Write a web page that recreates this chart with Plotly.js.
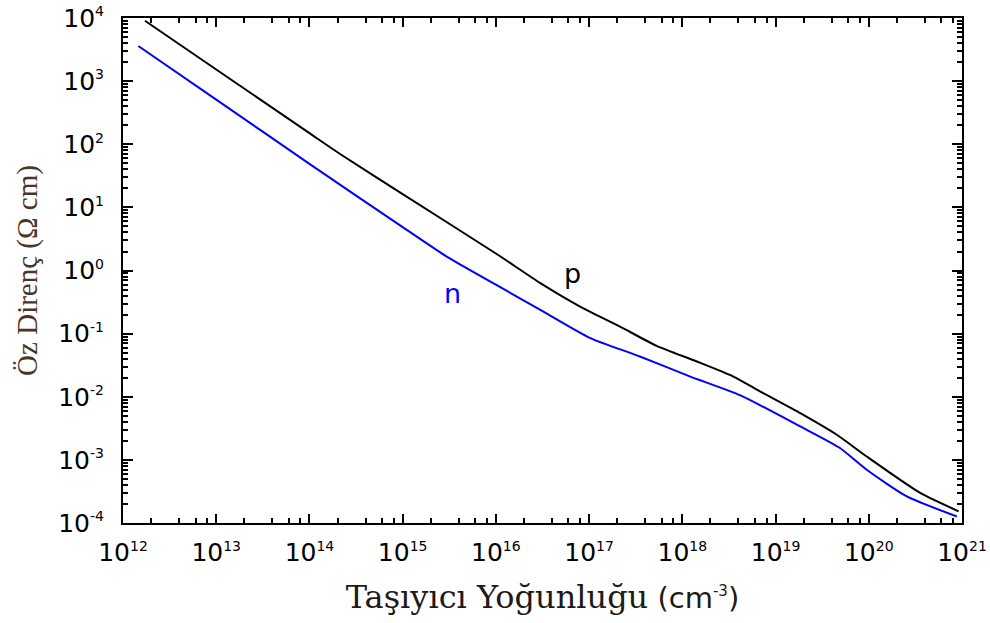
<!DOCTYPE html>
<html>
<head>
<meta charset="utf-8">
<script src="https://cdn.plot.ly/plotly-3.0.1.min.js"></script>
<style>html,body{margin:0;padding:0;background:#fff}#chart{width:990px;height:623px}</style>
</head>
<body>
<div id="chart"></div>
<script>
// p-type resistivity vs carrier concentration
const pN   = [1.72e12, 1e13, 1e14, 2.13e14, 1e15, 1e16, 3e16, 8e16, 2.15e17, 5.3e17, 1.43e18, 3.53e18, 6.8e18, 1.84e19, 4.54e19, 9.5e19, 3.56e20, 9.2e20];
const pRho = [9.06e3, 1.53e3, 150, 70, 16.2, 1.86, 0.63, 0.268, 0.129, 0.064, 0.0362, 0.0209, 0.0122, 5.5e-3, 2.5e-3, 1.13e-3, 2.99e-4, 1.53e-4];
// n-type
const nN   = [1.46e12, 1e13, 1e14, 1e15, 2.97e15, 1e16, 3e16, 1.03e17, 3.5e17, 1.2e18, 4.2e18, 1.84e19, 4.9e19, 9.5e19, 2.56e20, 8.8e20];
const nRho = [3.6e3, 509, 49, 4.86, 1.66, 0.596, 0.238, 0.085, 0.0435, 0.021, 0.0105, 3.38e-3, 1.54e-3, 6.97e-4, 2.64e-4, 1.27e-4];

const xTickVals = [1e12,1e13,1e14,1e15,1e16,1e17,1e18,1e19,1e20,1e21];
const xTickExp  = ['12','13','14','15','16','17','18','19','20','21'];
const yTickVals = [1e-4,1e-3,1e-2,1e-1,1,10,100,1e3,1e4];
const yTickExp  = ['-4','-3','-2','-1','0','1','2','3','4'];

const supLabel = e => '10<sup><span style="font-size:14px">' + e + '</span></sup>';

const xMinor = [], yMinor = [];
for (let e = 12; e < 21; e++) [2,4,6,8].forEach(m => xMinor.push(m * Math.pow(10, e)));
for (let e = -4; e < 4; e++) [2,3,4,5,6,7,8,9].forEach(m => yMinor.push(m * Math.pow(10, e)));

const tickFont = {family: 'DejaVu Sans, sans-serif', size: 25, color: '#000'};

const data = [
  {x: pN, y: pRho, mode: 'lines', line: {color: '#000000', width: 2, shape: 'spline', smoothing: 0.6}, name: 'p', hoverinfo: 'x+y'},
  {x: nN, y: nRho, mode: 'lines', line: {color: '#0000ff', width: 2, shape: 'spline', smoothing: 0.6}, name: 'n', hoverinfo: 'x+y'}
];

const layout = {
  width: 990, height: 623,
  margin: {l: 123, r: 28, t: 18, b: 100},
  paper_bgcolor: '#fff', plot_bgcolor: '#fff',
  showlegend: false,
  xaxis: {
    type: 'log', range: [12, 21],
    tickmode: 'array', tickvals: xTickVals, ticktext: xTickExp.map(supLabel),
    ticks: 'inside', ticklen: 9, tickwidth: 2, tickcolor: '#000',
    minor: {tickmode: 'array', tickvals: xMinor, ticks: 'inside', ticklen: 5, tickwidth: 2, tickcolor: '#000', showgrid: false},
    showline: true, linecolor: '#000', linewidth: 2, mirror: 'allticks',
    showgrid: false, zeroline: false,
    tickfont: tickFont,
    ticklabelstandoff: 6,
    title: {text: 'Taşıyıcı Yoğunluğu<span style="font-family:DejaVu Sans, sans-serif;font-size:29px"> (cm<sup><span style="font-size:15px">-3</span></sup>)</span>',
            font: {family: 'DejaVu Serif, serif', size: 32, color: '#1e1a16'}, standoff: 20}
  },
  yaxis: {
    type: 'log', range: [-4, 4],
    tickmode: 'array', tickvals: yTickVals, ticktext: yTickExp.map(supLabel),
    ticks: 'inside', ticklen: 10, tickwidth: 2, tickcolor: '#000',
    minor: {tickmode: 'array', tickvals: yMinor, ticks: 'inside', ticklen: 5, tickwidth: 2, tickcolor: '#000', showgrid: false},
    showline: true, linecolor: '#000', linewidth: 2, mirror: 'allticks',
    showgrid: false, zeroline: false,
    tickfont: tickFont,
    ticklabelstandoff: 12,
    title: {text: 'Öz Direnç (Ω cm)', font: {family: 'Liberation Serif, Times New Roman, serif', size: 29, color: '#4a3526'}, standoff: 12}
  },
  annotations: [
    {x: Math.log10(6.7e16), y: Math.log10(0.9), xref: 'x', yref: 'y', text: 'p', showarrow: false,
     font: {family: 'DejaVu Sans, sans-serif', size: 27, color: '#000'}},
    {x: Math.log10(3.4e15), y: Math.log10(0.43), xref: 'x', yref: 'y', text: 'n', showarrow: false,
     font: {family: 'DejaVu Sans, sans-serif', size: 27, color: '#0000ff'}}
  ]
};

Plotly.newPlot('chart', data, layout, {staticPlot: true});
</script>
</body>
</html>
